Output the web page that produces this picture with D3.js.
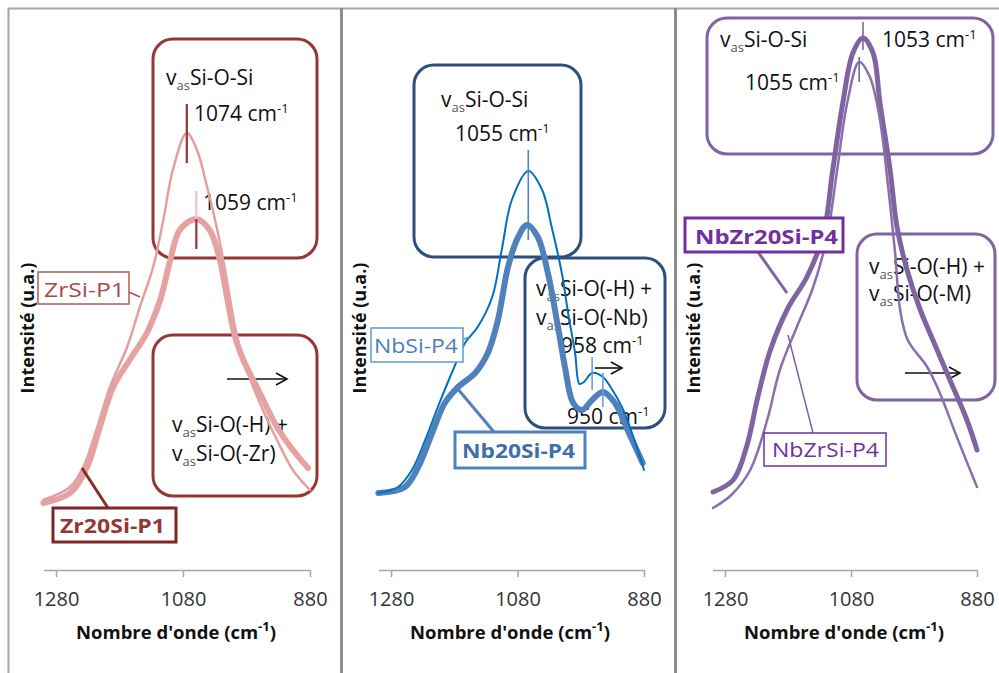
<!DOCTYPE html>
<html><head><meta charset="utf-8">
<script src="https://cdn.jsdelivr.net/npm/d3@7"></script>
<style>body{margin:0;background:#fff} svg{display:block} text{font-family:"Open Sans",sans-serif}</style>
</head><body><svg id="c" width="999" height="673"></svg>
<script>
// ---------- data ----------
const tickValues = [1280, 1080, 880];
const xTitle = "Nombre d'onde (cm";
const yTitle = "Intensité (u.a.)";

// Panel 1 : Zr
const zrsiP1Wn = [1300, 1258, 1237, 1215, 1195, 1168, 1148, 1127, 1111, 1096, 1074, 1058, 1042, 1026, 1011, 998, 985, 959, 932, 907, 880];
const zrsiP1I  = [70, 83, 103, 143, 183, 223, 263, 303, 350, 400, 437, 420, 383, 340, 290, 243, 210, 167, 130, 100, 80];
const zr20siP1Wn = [1300, 1258, 1231, 1211, 1190, 1164, 1137, 1116, 1100, 1085, 1059, 1038, 1022, 1009, 998, 985, 959, 932, 907, 883];
const zr20siP1I  = [67, 77, 103, 143, 183, 210, 237, 270, 310, 340, 351, 340, 310, 267, 233, 210, 177, 143, 120, 102];

// Panel 2 : Nb
const nbsiP4Wn = [1300, 1269, 1247, 1226, 1206, 1184, 1163, 1143, 1120, 1105, 1089, 1063, 1041, 1026, 1010, 1000, 989, 982, 975, 962, 945, 930, 915, 899, 880];
const nbsiP4I  = [77, 83, 100, 130, 163, 197, 227, 243, 273, 320, 370, 399, 380, 343, 297, 257, 217, 186, 188, 197, 193, 180, 163, 137, 100];
const nb20siP4Wn = [1300, 1258, 1237, 1215, 1195, 1174, 1147, 1127, 1111, 1095, 1079, 1065, 1048, 1032, 1016, 1005, 992, 978, 962, 945, 926, 906, 882];
const nb20siP4I  = [77, 83, 103, 137, 167, 183, 197, 217, 250, 303, 333, 345, 333, 297, 243, 203, 167, 160, 170, 178, 167, 140, 107];

// Panel 3 : NbZr
const nbzr20siP4Wn = [1299, 1267, 1245, 1229, 1208, 1180, 1150, 1124, 1109, 1093, 1077, 1061, 1045, 1034, 1018, 1007, 991, 970, 950, 923, 896, 880];
const nbzr20siP4I  = [78, 90, 125, 170, 220, 262, 293, 335, 400, 467, 517, 532, 517, 467, 400, 343, 300, 260, 230, 190, 150, 120];
const nbzrsiP4Wn = [1299, 1270, 1240, 1213, 1193, 1166, 1140, 1118, 1102, 1086, 1067, 1050, 1034, 1021, 1010, 1002, 990, 959, 939, 912, 880];
const nbzrsiP4I  = [62, 75, 100, 150, 200, 243, 283, 333, 400, 467, 508, 493, 450, 383, 317, 260, 230, 203, 177, 133, 83];

// ---------- drawing ----------
const svg = d3.select('#c');
const y = d3.scaleLinear().domain([0, 560]).range([570, 10]);
const zip = (a, b) => a.map((v, i) => [v, b[i]]);

// frame
const frame = svg.append('g');
frame.append('line').attr('x1', 8).attr('x2', 999).attr('y1', 8.5).attr('y2', 8.5).attr('stroke', '#a6a6a6').attr('stroke-width', 2);
frame.append('line').attr('x1', 8.5).attr('x2', 8.5).attr('y1', 8).attr('y2', 673).attr('stroke', '#a6a6a6').attr('stroke-width', 2);
[341.5, 675.5].forEach(xx => frame.append('line').attr('x1', xx).attr('x2', xx).attr('y1', 8).attr('y2', 673).attr('stroke', '#8c8c8c').attr('stroke-width', 3));

function rich(g, x, yy, parts, o = {}) {
  const t = g.append('text').attr('x', x).attr('y', yy).attr('font-size', o.size || 21)
    .attr('fill', o.color || '#111').attr('font-weight', o.bold ? 700 : 400);
  let shift = 0;
  parts.forEach(p => {
    const s = t.append('tspan').text(p.t);
    let target = p.sub ? 5 : p.sup ? -8 : 0;
    s.attr('dy', target - shift); shift = target;
    if (p.sub || p.sup) s.attr('font-size', 13);
    if (p.sub) s.attr('fill', '#555');
  });
  return t;
}
const vas = rest => [{t: 'v'}, {t: 'as', sub: true}, {t: rest}];
const cm = num => [{t: num + ' cm'}, {t: '-1', sup: true}];

function box(g, x, yy, w, h, color, sw = 3, r = 20) {
  g.append('rect').attr('x', x).attr('y', yy).attr('width', w).attr('height', h).attr('rx', r)
    .attr('fill', 'none').attr('stroke', color).attr('stroke-width', sw);
}
function arrow(g, x1, x2, yy) {
  g.append('line').attr('x1', x1).attr('x2', x2).attr('y1', yy).attr('y2', yy).attr('stroke', '#111').attr('stroke-width', 1.6);
  g.append('path').attr('d', `M${x2 - 11},${yy - 6}L${x2},${yy}L${x2 - 11},${yy + 6}`).attr('fill', 'none').attr('stroke', '#111').attr('stroke-width', 1.6);
}
function label(g, x, yy, w, h, text, color, border, bold, sw, tx, base, tlen) {
  g.append('rect').attr('x', x).attr('y', yy).attr('width', w).attr('height', h).attr('fill', '#fff').attr('stroke', border).attr('stroke-width', sw);
  g.append('text').attr('x', tx).attr('y', base).attr('font-size', 20)
    .attr('textLength', tlen).attr('lengthAdjust', 'spacingAndGlyphs')
    .attr('font-weight', bold ? 700 : 400).attr('fill', color).text(text);
}
function connector(g, x1, y1, x2, y2, color, sw) {
  g.append('line').attr('x1', x1).attr('y1', y1).attr('x2', x2).attr('y2', y2).attr('stroke', color).attr('stroke-width', sw);
}

const panels = [
  {x0: 43.3, x1: 310, title: 176, ytx: 28,
   series: [{wn: zrsiP1Wn, I: zrsiP1I, color: '#e3a0a0', w: 2.5}, {wn: zr20siP1Wn, I: zr20siP1I, color: '#e6a2a2', w: 6}]},
  {x0: 378.4, x1: 644, title: 510, ytx: 360,
   series: [{wn: nb20siP4Wn, I: nb20siP4I, color: '#4f81bd', w: 6}, {wn: nbsiP4Wn, I: nbsiP4I, color: '#0070c0', w: 2}]},
  {x0: 712.4, x1: 977, title: 844, ytx: 694,
   series: [{wn: nbzr20siP4Wn, I: nbzr20siP4I, color: '#8064a2', w: 5}, {wn: nbzrsiP4Wn, I: nbzrsiP4I, color: '#8a6fad', w: 2.5}]}
];

panels.forEach((p, pi) => {
  const x = d3.scaleLinear().domain([1300, 880]).range([p.x0, p.x1]);
  p.x = x;
  const g = svg.append('g');
  p.g = g;
  // axis
  const ax = g.append('g').attr('transform', 'translate(0,570)')
    .call(d3.axisBottom(x).tickValues(tickValues).tickSize(7).tickSizeOuter(0).tickPadding(15).tickFormat(d3.format('d')));
  ax.select('.domain').attr('stroke', '#a6a6a6').attr('stroke-width', 1.5);
  ax.selectAll('.tick line').attr('stroke', '#a6a6a6').attr('stroke-width', 1.5);
  ax.selectAll('.tick text').attr('font-size', 20).attr('fill', '#333').attr('font-family', '"Open Sans",sans-serif');
  // titles
  rich(g, p.title, 639, [{t: xTitle}, {t: '-1', sup: true}, {t: ')'}], {size: 18.5, bold: true, color: '#111'}).attr('text-anchor', 'middle');
  g.append('text').attr('transform', `translate(${p.ytx},328) rotate(-90)`).attr('text-anchor', 'middle')
    .attr('dy', '0.35em').attr('font-size', 18).attr('font-weight', 700).attr('fill', '#111').text(yTitle);
});

// ---- panel 1 annotations (behind curves)
{
  const p = panels[0], g = p.g, c = '#953735';
  box(g, 153, 39, 164, 219, c);
  box(g, 153, 335, 164, 161, c);
  rich(g, 166, 85, vas('Si-O-Si'));
  rich(g, 194, 121, cm('1074'));
  rich(g, 203, 210, cm('1059'));
  rich(g, 172, 432, vas('Si-O(-H) +'));
  rich(g, 172, 461, vas('Si-O(-Zr)'));
  arrow(g, 227, 287, 379);
}
// ---- panel 2 annotations
{
  const p = panels[1], g = p.g, c = '#2c4f7c';
  box(g, 414, 65, 167, 192, c);
  box(g, 525, 258, 140, 170, c);
  rich(g, 441, 107, vas('Si-O-Si'));
  rich(g, 455, 141, cm('1055'));
  rich(g, 536, 296, vas('Si-O(-H) +'));
  rich(g, 536, 325, vas('Si-O(-Nb)'));
  rich(g, 561, 353, cm('958'));
  rich(g, 567, 424, cm('950'));
  arrow(g, 595, 622, 368);
}
// ---- panel 3 annotations
{
  const p = panels[2], g = p.g, c = '#8064a2';
  box(g, 707, 18, 286, 136, c);
  box(g, 857, 234, 138, 166, c);
  rich(g, 720, 47, vas('Si-O-Si'));
  rich(g, 882, 47, cm('1053'));
  rich(g, 745, 90, cm('1055'));
  rich(g, 869, 274, vas('Si-O(-H) +'));
  rich(g, 869, 301, vas('Si-O(-M)'));
  arrow(g, 905, 960, 373);
}

// curves
panels.forEach(p => {
  const line = d3.line().x(d => p.x(d[0])).y(d => y(d[1])).curve(d3.curveCatmullRom.alpha(0.5));
  p.series.forEach(s => {
    p.g.append('path').datum(zip(s.wn, s.I)).attr('d', line).attr('fill', 'none')
      .attr('stroke', s.color).attr('stroke-width', s.w).attr('stroke-linecap', 'round').attr('stroke-linejoin', 'round');
  });
});

// peak markers (from data peak positions)
function peakMarker(p, wn, I, target, up, down, color, sw, upColor) {
  let idx = 0, best = Infinity;
  wn.forEach((w, i) => { const d = Math.abs(w - target); if (d < best) { best = d; idx = i; } });
  const px = p.x(wn[idx]), py = y(I[idx]);
  p.g.append('line').attr('x1', px).attr('x2', px).attr('y1', py - up).attr('y2', py).attr('stroke', upColor || color).attr('stroke-width', sw);
  p.g.append('line').attr('x1', px).attr('x2', px).attr('y1', py).attr('y2', py + down).attr('stroke', color).attr('stroke-width', sw);
}
peakMarker(panels[0], zrsiP1Wn, zrsiP1I, 1074, 29, 30, '#953735', 2.2);
peakMarker(panels[0], zr20siP1Wn, zr20siP1I, 1059, 28, 30, '#953735', 2.2, '#f0c4c4');
peakMarker(panels[1], nbsiP4Wn, nbsiP4I, 1063, 21, 69, '#4a86c5', 1.6);
peakMarker(panels[1], nbsiP4Wn, nbsiP4I, 962, 16, 17, '#6fa0d8', 1.6);
peakMarker(panels[1], nb20siP4Wn, nb20siP4I, 945, 19, 15, '#6fa0d8', 1.6);
peakMarker(panels[2], nbzr20siP4Wn, nbzr20siP4I, 1061, 16, 12, '#8064a2', 1.6);
peakMarker(panels[2], nbzrsiP4Wn, nbzrsiP4I, 1067, 5, 20, '#8064a2', 1.6);

// series labels
{
  const g = panels[0].g;
  connector(g, 129, 292, 140, 297, '#b05050', 1.5);
  label(g, 38, 272, 91, 32, 'ZrSi-P1', '#a84a48', '#b35a58', false, 1.5, 44, 297, 81);
  connector(g, 82, 468, 108, 508, '#8b2b2b', 3);
  label(g, 53, 508, 123, 34, 'Zr20Si-P1', '#953735', '#7f2525', true, 3, 60, 533, 105);
}
{
  const g = panels[1].g;
  connector(g, 462, 340, 469, 337, '#5b9bd5', 1.5);
  label(g, 371, 328, 92, 34, 'NbSi-P4', '#4a7ebb', '#5b9bd5', false, 1.5, 374, 353, 84);
  connector(g, 457, 388, 494, 432, '#4f81bd', 3);
  label(g, 455, 432, 130, 36, 'Nb20Si-P4', '#3f6faa', '#4f81bd', true, 3, 462, 458, 113);
}
{
  const g = panels[2].g;
  connector(g, 758, 252, 787, 293, '#8064a2', 3);
  label(g, 685, 218, 158, 34, 'NbZr20Si-P4', '#7030a0', '#7030a0', true, 3, 695, 244, 143);
  connector(g, 788, 335, 813, 433, '#8064a2', 1.5);
  label(g, 764, 433, 122, 33, 'NbZrSi-P4', '#7030a0', '#7030a0', false, 1.5, 772, 457, 107);
}
</script></body></html>
